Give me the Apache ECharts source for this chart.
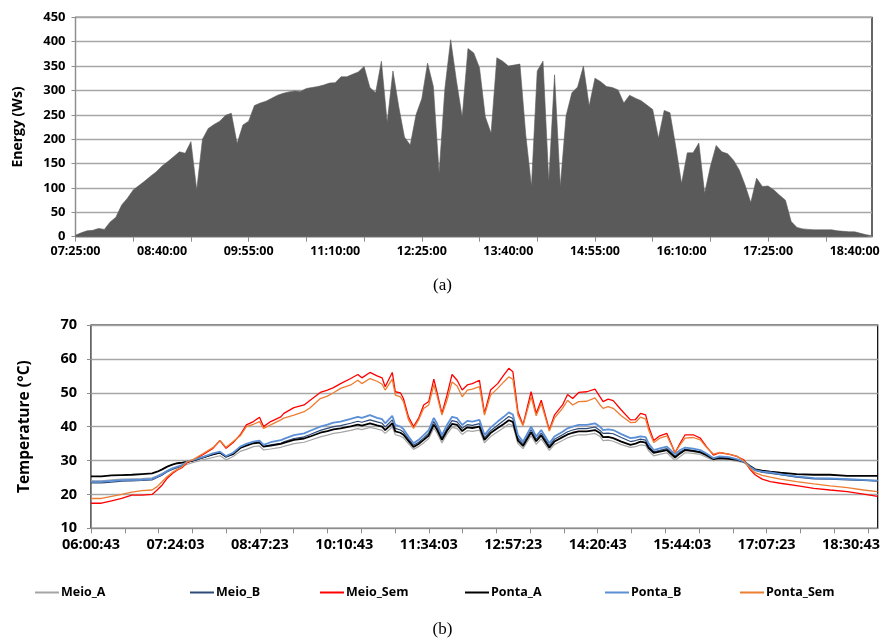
<!DOCTYPE html>
<html>
<head>
<meta charset="utf-8">
<script src="https://cdn.jsdelivr.net/npm/echarts@6/dist/echarts.min.js"></script>
<style>
  html, body { margin: 0; padding: 0; background: #fff; }
  #chart { width: 885px; height: 641px; }
</style>
</head>
<body>
<div id="chart"></div>
<script>
// ---------- (a) Energy, one reading every 5 minutes from 07:25:00 ----------
const energyStart = '07:25:00';
const energyStepMin = 5;
const energyTickLabels = ['07:25:00', '08:40:00', '09:55:00', '11:10:00', '12:25:00',
  '13:40:00', '14:55:00', '16:10:00', '17:25:00', '18:40:00'];
const energy = [
  3, 8, 12, 13, 17, 15, 30, 40, 65, 79,
  96, 105, 114, 124, 133, 145, 154, 164, 174, 171,
  195, 96, 200, 222, 230, 237, 249, 253, 191, 229,
  237, 269, 274, 278, 284, 290, 294, 297, 299, 298,
  304, 306, 308, 311, 315, 316, 328, 328, 333, 338,
  349, 306, 295, 360, 234, 340, 267, 204, 188, 250,
  283, 356, 308, 130, 304, 404, 320, 245, 386, 377,
  346, 246, 212, 367, 360, 350, 352, 354, 210, 103,
  340, 360, 113, 332, 103, 248, 295, 307, 350, 268,
  325, 318, 308, 306, 301, 274, 290, 284, 279, 270,
  261, 202, 259, 254, 185, 109, 172, 172, 192, 89,
  144, 187, 174, 170, 157, 137, 106, 70, 120, 103,
  104, 96, 85, 75, 31, 19, 16, 15, 14, 14,
  14, 14, 12, 11, 10, 10, 7, 4, 2
];

// ---------- (b) Temperatures ----------
const tempTimes = [
  '06:00:43', '06:11', '06:21', '06:31', '06:41', '06:51', '07:01', '07:06', '07:11', '07:16',
  '07:21', '07:26', '07:31', '07:36', '07:41', '07:51', '08:01', '08:08', '08:14', '08:21',
  '08:28', '08:34', '08:41', '08:47', '08:51', '08:58', '09:08', '09:11', '09:21', '09:31',
  '09:37', '09:47', '09:54', '10:00', '10:07', '10:17', '10:24', '10:28', '10:36', '10:43',
  '10:48', '10:51', '10:58', '11:01', '11:06', '11:09', '11:14', '11:19', '11:24', '11:29',
  '11:34', '11:39', '11:42', '11:47', '11:52', '11:57', '12:02', '12:07', '12:12', '12:17',
  '12:24', '12:29', '12:35', '12:42', '12:48', '12:53', '12:57', '13:02', '13:07', '13:15',
  '13:20', '13:25', '13:33', '13:38', '13:46', '13:51', '13:56', '14:02', '14:10', '14:18',
  '14:23', '14:26', '14:31', '14:36', '14:44', '14:53', '14:58', '15:03', '15:08', '15:11',
  '15:16', '15:22', '15:29', '15:37', '15:42', '15:47', '15:55', '16:02', '16:08', '16:15',
  '16:21', '16:30', '16:38', '16:45', '16:51', '16:56', '17:03', '17:11', '17:21', '17:37',
  '17:54', '18:10', '18:27', '18:43', '18:56:50'
];
const meioA = [
  24.0, 24.0, 24.3, 24.5, 24.6, 24.7, 24.9, 25.5, 26.2, 27.0,
  27.6, 28.0, 28.4, 28.9, 29.4, 30.2, 30.9, 31.4, 30.2, 31.2,
  32.7, 33.3, 34.1, 34.3, 33.1, 33.4, 33.9, 34.2, 35.0, 35.4,
  36.0, 37.0, 37.5, 38.0, 38.3, 38.9, 39.4, 39.1, 39.8, 39.3,
  38.9, 38.0, 39.9, 37.6, 37.2, 36.7, 35.0, 33.3, 34.1, 35.2,
  36.5, 39.6, 38.2, 35.2, 37.8, 39.8, 39.4, 37.7, 38.8, 38.6,
  39.0, 35.2, 37.1, 38.5, 39.7, 40.8, 40.3, 35.0, 33.5, 37.3,
  34.8, 36.4, 33.0, 34.7, 35.9, 36.7, 37.2, 37.6, 37.6, 38.0,
  37.1, 35.9, 36.0, 35.7, 34.7, 33.9, 34.1, 34.6, 34.4, 32.9,
  31.4, 31.8, 32.3, 30.0, 31.2, 32.3, 32.1, 31.8, 31.0, 30.0,
  30.3, 30.1, 29.8, 29.4, 28.1, 27.0, 26.5, 26.2, 25.8, 25.2,
  24.8, 24.7, 24.5, 24.3, 24.1
];
const meioB = [
  23.4, 23.4, 23.6, 23.9, 24.0, 24.1, 24.3, 25.0, 25.7, 26.7,
  27.4, 27.9, 28.5, 29.5, 29.9, 30.8, 31.8, 32.3, 31.0, 32.0,
  33.8, 34.5, 35.2, 35.5, 34.2, 34.6, 35.1, 35.5, 36.5, 37.0,
  37.7, 38.9, 39.5, 40.0, 40.3, 41.0, 41.6, 41.3, 42.0, 41.4,
  41.0, 39.9, 42.0, 39.5, 39.0, 38.4, 36.4, 34.5, 35.4, 36.7,
  38.1, 41.5, 40.0, 36.7, 39.5, 41.8, 41.4, 39.5, 40.6, 40.4,
  40.9, 36.7, 38.8, 40.4, 41.8, 43.0, 42.4, 36.6, 34.9, 39.1,
  36.3, 38.1, 34.4, 36.3, 37.6, 38.5, 39.0, 39.4, 39.4, 39.9,
  38.9, 38.0, 38.1, 37.9, 36.8, 35.6, 35.9, 36.3, 36.0, 34.2,
  32.6, 33.0, 33.5, 31.3, 32.5, 33.3, 33.0, 32.6, 31.7, 30.5,
  30.9, 30.8, 30.3, 29.6, 28.2, 27.2, 26.6, 26.3, 25.8, 25.1,
  24.6, 24.5, 24.3, 24.1, 23.9
];
const meioSem = [
  17.4, 17.4, 18.1, 18.8, 19.8, 19.8, 20.0, 21.3, 22.8, 24.8,
  26.2, 27.2, 28.0, 29.5, 30.0, 31.7, 33.6, 35.9, 33.6, 35.3,
  37.6, 40.5, 41.5, 42.8, 40.0, 41.5, 42.9, 43.9, 45.6, 46.4,
  47.8, 50.1, 50.8, 51.5, 52.7, 54.2, 55.4, 54.4, 56.0, 55.0,
  54.4, 51.8, 56.0, 50.3, 50.0, 48.3, 42.9, 40.0, 42.5, 46.4,
  47.4, 54.0, 50.3, 43.9, 49.3, 55.4, 53.7, 50.8, 52.3, 52.7,
  53.7, 43.9, 50.8, 52.7, 55.2, 57.2, 56.2, 44.4, 40.5, 50.3,
  43.9, 47.8, 39.0, 43.4, 46.4, 49.5, 48.3, 50.1, 50.3, 51.1,
  48.8, 47.4, 48.1, 47.7, 44.9, 42.0, 42.1, 43.9, 43.5, 40.0,
  35.9, 37.3, 38.0, 32.3, 35.1, 37.6, 37.6, 36.6, 34.1, 31.6,
  32.3, 31.9, 31.2, 30.2, 27.4, 25.8, 24.5, 23.8, 23.3, 22.6,
  21.8, 21.3, 20.8, 20.1, 19.4
];
const pontaA = [
  25.3, 25.3, 25.6, 25.7, 25.8, 26.0, 26.2, 26.7, 27.4, 28.2,
  28.8, 29.2, 29.4, 29.7, 30.0, 30.9, 31.8, 32.3, 31.2, 31.9,
  33.7, 34.4, 35.1, 35.3, 34.1, 34.4, 34.9, 35.2, 36.1, 36.5,
  37.1, 38.2, 38.7, 39.2, 39.5, 40.1, 40.6, 40.3, 41.0, 40.4,
  40.0, 39.0, 41.0, 38.6, 38.2, 37.6, 35.8, 34.0, 34.9, 36.1,
  37.4, 40.6, 39.2, 36.1, 38.8, 40.8, 40.5, 38.7, 39.8, 39.6,
  40.0, 36.1, 38.1, 39.6, 40.8, 41.9, 41.4, 35.9, 34.3, 38.3,
  35.7, 37.4, 33.8, 35.6, 36.9, 37.7, 38.2, 38.6, 38.6, 39.0,
  38.1, 36.9, 37.0, 36.6, 35.6, 34.6, 35.0, 35.6, 35.3, 33.7,
  32.3, 32.6, 33.1, 30.9, 32.1, 33.1, 32.8, 32.4, 31.6, 30.4,
  30.7, 30.5, 30.2, 29.7, 28.4, 27.4, 27.0, 26.7, 26.4, 26.0,
  25.8, 25.8, 25.5, 25.5, 25.5
];
const pontaB = [
  23.8, 23.8, 24.0, 24.2, 24.3, 24.4, 24.6, 25.3, 26.0, 27.0,
  27.7, 28.2, 28.7, 29.8, 30.1, 31.0, 32.1, 32.6, 31.3, 32.3,
  34.1, 34.9, 35.6, 35.9, 34.6, 35.4, 36.0, 36.4, 37.5, 38.0,
  38.8, 40.0, 40.6, 41.2, 41.5, 42.3, 42.9, 42.6, 43.4, 42.6,
  42.2, 41.0, 43.2, 40.5, 40.0, 39.3, 37.1, 35.1, 36.1, 37.5,
  39.0, 42.6, 41.0, 37.5, 40.5, 42.9, 42.5, 40.5, 41.7, 41.5,
  42.0, 37.5, 39.7, 41.5, 42.9, 44.2, 43.6, 37.5, 35.6, 40.0,
  37.1, 39.0, 35.1, 37.1, 38.5, 39.5, 40.0, 40.5, 40.5, 41.0,
  40.0, 39.0, 39.2, 39.0, 37.8, 36.6, 36.8, 37.1, 36.9, 35.0,
  33.1, 33.6, 34.1, 31.9, 33.1, 33.8, 33.5, 33.1, 32.1, 30.7,
  31.2, 31.0, 30.4, 29.7, 28.2, 27.2, 26.7, 26.5, 26.0, 25.3,
  24.8, 24.7, 24.5, 24.3, 24.1
];
const pontaSem = [
  18.8, 18.8, 19.4, 20.0, 20.7, 21.1, 21.3, 22.3, 23.8, 25.3,
  26.5, 27.4, 28.2, 29.7, 30.2, 32.0, 33.8, 35.9, 33.9, 35.6,
  37.3, 40.0, 40.7, 41.5, 39.5, 40.5, 42.0, 42.5, 43.4, 44.4,
  45.6, 48.3, 49.0, 50.0, 51.3, 52.3, 53.7, 52.7, 54.2, 53.4,
  52.5, 50.8, 54.0, 49.3, 48.8, 47.4, 42.0, 39.5, 42.0, 45.4,
  46.4, 52.3, 49.3, 43.4, 47.8, 53.2, 52.0, 48.8, 50.8, 51.1,
  51.8, 43.4, 49.3, 51.3, 53.2, 54.7, 54.0, 43.4, 40.3, 48.8,
  43.2, 46.8, 38.7, 42.5, 45.4, 47.8, 46.4, 47.4, 47.5, 48.5,
  46.4, 45.4, 45.9, 45.4, 43.2, 41.2, 41.3, 42.8, 42.2, 39.0,
  35.3, 36.6, 37.3, 32.3, 34.6, 36.6, 36.8, 36.1, 33.9, 31.9,
  32.4, 31.9, 31.3, 29.9, 27.7, 26.4, 25.6, 25.1, 24.5, 23.8,
  23.1, 22.5, 22.0, 21.3, 20.8
];
const tempTickLabels = ['06:00:43', '07:24:03', '08:47:23', '10:10:43', '11:34:03',
  '12:57:23', '14:20:43', '15:44:03', '17:07:23', '18:30:43'];
const tempAxisEnd = '18:57:00';
const tempTickStepSec = 2000;

// ---------- helpers ----------
function toSec(s) {
  const p = s.split(':').map(Number);
  return p[0] * 3600 + p[1] * 60 + (p[2] || 0);
}
function toClock(sec) {
  const h = Math.floor(sec / 3600), m = Math.floor((sec % 3600) / 60), s = Math.round(sec % 60);
  const z = n => String(n).padStart(2, '0');
  return z(h) + ':' + z(m) + ':' + z(s);
}

// category labels for the energy axis
const energyCats = [];
for (let i = 0; i < energy.length; i++) {
  energyCats.push(toClock(toSec(energyStart) + i * energyStepMin * 60));
}
const energyLabelSet = new Set(energyTickLabels);

const tMin = toSec(tempTickLabels[0]);
const tMax = toSec(tempAxisEnd);
const tickVals = [];
for (let v = tMin; v < tMax; v += tempTickStepSec) tickVals.push(v);
const labelVals = tempTickLabels.map(toSec);

const tSec = tempTimes.map(toSec);
const pair = arr => arr.map((v, i) => [tSec[i], v]);

const FONT = 'Open Sans';
const gridLine = { show: true, lineStyle: { color: '#a6a6a6', width: 1.3 } };
const axisGray = { show: true, lineStyle: { color: '#8c8c8c', width: 1 } };

const tempSeries = [
  { name: 'Meio_A', data: meioA, color: '#a5a5a5', width: 1.2 },
  { name: 'Meio_B', data: meioB, color: '#2e4a78', width: 1.2 },
  { name: 'Meio_Sem', data: meioSem, color: '#ff0000', width: 1.3 },
  { name: 'Ponta_A', data: pontaA, color: '#000000', width: 1.8 },
  { name: 'Ponta_B', data: pontaB, color: '#5b8fd6', width: 1.8 },
  { name: 'Ponta_Sem', data: pontaSem, color: '#ed7d31', width: 1.3 }
];
const legendLeft = [30, 185, 315, 460, 600, 735];

const chart = echarts.init(document.getElementById('chart'), null, { renderer: 'canvas' });

chart.setOption({
  animation: false,
  backgroundColor: '#ffffff',
  textStyle: { fontFamily: FONT },
  title: [
    { text: '(a)', left: 'center', top: 272, textStyle: { fontFamily: 'Liberation Serif', fontWeight: 'normal', fontSize: 17, color: '#000' } },
    { text: '(b)', left: 'center', top: 616, textStyle: { fontFamily: 'Liberation Serif', fontWeight: 'normal', fontSize: 17, color: '#000' } }
  ],
  legend: tempSeries.map((s, k) => ({
    data: [s.name],
    left: legendLeft[k],
    top: 581,
    icon: 'rect',
    itemWidth: 24,
    itemHeight: 2,
    itemGap: 0,
    textStyle: { fontFamily: FONT, fontWeight: 'bold', fontSize: 12.5, color: '#000', padding: [0, 0, 0, -3] }
  })),
  grid: [
    { left: 75.5, right: 13, top: 17.3, bottom: 404.3, show: true, borderColor: '#000', borderWidth: 1.2 },
    { left: 91, right: 7.3, top: 325, bottom: 112.7, show: true, borderColor: '#000', borderWidth: 1.2 }
  ],
  xAxis: [
    {
      gridIndex: 0,
      type: 'category',
      data: energyCats,
      boundaryGap: false,
      axisLine: axisGray,
      axisTick: { show: true, interval: 9, length: 5, lineStyle: { color: '#8c8c8c' } },
      axisLabel: {
        interval: (i, v) => energyLabelSet.has(v),
        margin: 8, color: '#000', fontWeight: 'bold', fontSize: 12.5, fontFamily: FONT,
        hideOverlap: false
      },
      splitLine: { show: false }
    },
    {
      gridIndex: 1,
      type: 'value',
      min: tMin,
      max: tMax,
      axisLine: axisGray,
      axisTick: { show: true, length: 5, customValues: tickVals, lineStyle: { color: '#8c8c8c' } },
      axisLabel: {
        customValues: labelVals, margin: 9, color: '#000', fontWeight: 'bold', fontSize: 14.5, fontFamily: FONT,
        formatter: v => toClock(v)
      },
      splitLine: { show: false }
    }
  ],
  yAxis: [
    {
      gridIndex: 0,
      type: 'value',
      min: 0, max: 450, interval: 50,
      name: 'Energy (Ws)',
      nameLocation: 'middle',
      nameGap: 50,
      nameTextStyle: { fontFamily: FONT, fontWeight: 'bold', fontSize: 14, color: '#000' },
      axisLine: axisGray,
      axisTick: { show: true, length: 4, lineStyle: { color: '#8c8c8c' } },
      axisLabel: { margin: 10, color: '#000', fontWeight: 'bold', fontSize: 13, fontFamily: FONT },
      splitLine: gridLine
    },
    {
      gridIndex: 1,
      type: 'value',
      min: 10, max: 70, interval: 10,
      name: 'Temperature (°C)',
      nameLocation: 'middle',
      nameGap: 58,
      nameTextStyle: { fontFamily: FONT, fontWeight: 'bold', fontSize: 15.5, color: '#000' },
      axisLine: axisGray,
      axisTick: { show: true, length: 4, lineStyle: { color: '#8c8c8c' } },
      axisLabel: { margin: 14, color: '#000', fontWeight: 'bold', fontSize: 14.5, fontFamily: FONT },
      splitLine: gridLine
    }
  ],
  series: [
    {
      name: 'Energy',
      type: 'line',
      xAxisIndex: 0,
      yAxisIndex: 0,
      data: energy,
      symbol: 'none',
      lineStyle: { width: 0.6, color: '#5a5a5a' },
      areaStyle: { color: '#5a5a5a', opacity: 1 },
      z: 1
    }
  ].concat(tempSeries.map(s => ({
    name: s.name,
    type: 'line',
    xAxisIndex: 1,
    yAxisIndex: 1,
    data: pair(s.data),
    symbol: 'none',
    color: s.color,
    lineStyle: { width: s.width, color: s.color }
  })))
});
</script>
</body>
</html>
